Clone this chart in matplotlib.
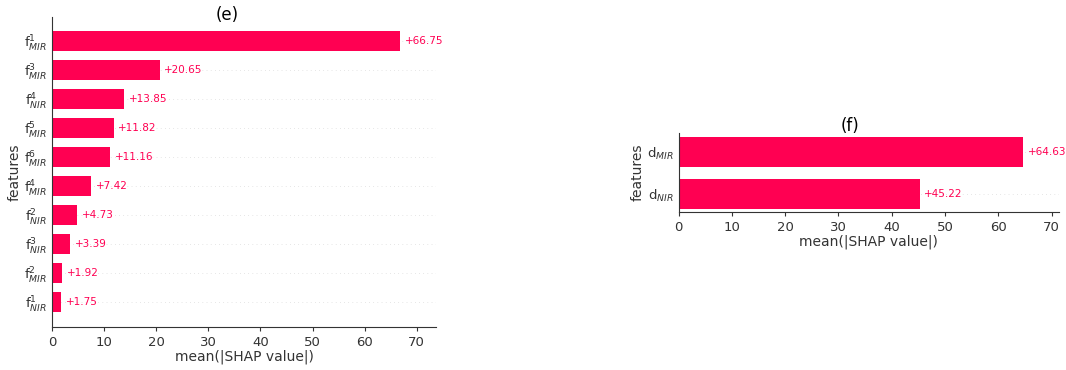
import numpy as np
import matplotlib
matplotlib.use('Agg')
import matplotlib.pyplot as plt

# ---- data (top to bottom as shown) ----
e_labels = [r'f$^{1}_{MIR}$', r'f$^{3}_{MIR}$', r'f$^{4}_{NIR}$', r'f$^{5}_{MIR}$',
            r'f$^{6}_{MIR}$', r'f$^{4}_{MIR}$', r'f$^{2}_{NIR}$', r'f$^{3}_{NIR}$',
            r'f$^{2}_{MIR}$', r'f$^{1}_{NIR}$']
e_values = [66.75, 20.65, 13.85, 11.82, 11.16, 7.42, 4.73, 3.39, 1.92, 1.75]

f_labels = [r'd$_{MIR}$', r'd$_{NIR}$']
f_values = [64.63, 45.22]

red = '#ff0052'
grey = '#333333'

fig = plt.figure(figsize=(10.66, 3.70), dpi=100)


def shap_bar(ax, labels, values, xmax, title, tx, ty):
    n = len(values)
    ypos = np.arange(n)[::-1]
    for y in ypos:
        ax.axhline(y, color='#888888', lw=0.5, dashes=(1, 5), alpha=0.4, zorder=-1)
    ax.barh(ypos, values, height=0.7, color=red, align='center')
    for y, v in zip(ypos, values):
        ax.text(v + xmax / 80, y, '+%.2f' % v, ha='left', va='center',
                color=red, fontsize=7.5)
    ax.set_yticks(ypos)
    ax.set_yticklabels(labels, fontsize=9.5, color=grey)
    ax.set_xlim(0, xmax)
    ax.set_xticks(np.arange(0, 71, 10))
    ax.tick_params(axis='x', labelsize=9.5, colors=grey, length=3, width=0.8)
    ax.tick_params(axis='y', length=0)
    for s in ['top', 'right']:
        ax.spines[s].set_visible(False)
    for s in ['left', 'bottom']:
        ax.spines[s].set_color(grey)
        ax.spines[s].set_linewidth(0.8)
    ax.set_xlabel('mean(|SHAP value|)', fontsize=10, color=grey, labelpad=0)
    ax.set_ylabel('features', fontsize=10, color=grey, labelpad=2)
    ax.set_title(title, fontsize=12, x=tx, y=ty, pad=0)


ax1 = fig.add_axes([0.0488, 0.1162, 0.3602, 0.8378])
shap_bar(ax1, e_labels, e_values, 73.7, '(e)', 0.456, 0.99)
ax1.set_ylim(-0.86, 9.83)

ax2 = fig.add_axes([0.6367, 0.427, 0.3567, 0.2135])
shap_bar(ax2, f_labels, f_values, 71.4, '(f)', 0.45, 1.03)
ax2.set_ylim(-0.43, 1.45)

fig.savefig('out.png', dpi=100)
